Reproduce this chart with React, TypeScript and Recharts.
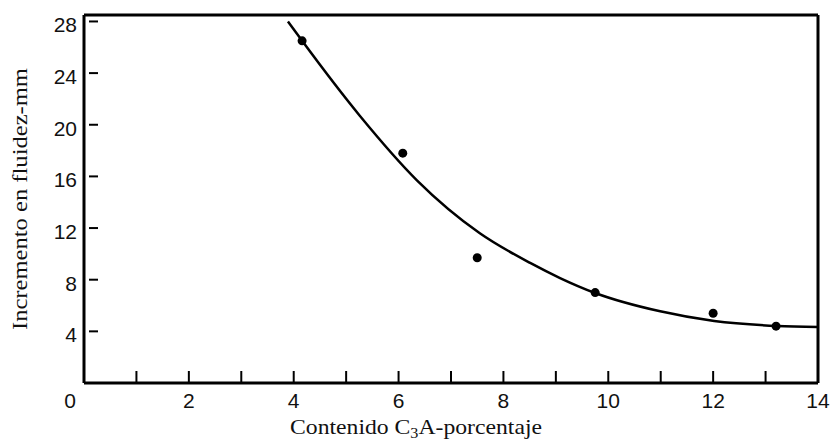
import React from 'react';
import { ComposedChart, Line, Scatter, XAxis, YAxis, ReferenceLine } from 'recharts';

// measured points (C3A %, flow increase mm)
const pointX = [4.16, 6.08, 7.5, 9.75, 12.0, 13.2];
const pointY = [26.5, 17.8, 9.7, 7.0, 5.4, 4.4];

// fitted curve
const curveX = [3.89, 4.16, 5.26, 6.35, 7.55, 8.51, 9.08, 9.75, 10.99, 12.02, 13.22, 14.0];
const curveY = [28.0, 26.5, 20.7, 15.7, 11.6, 9.3, 8.13, 6.97, 5.55, 4.8, 4.42, 4.34];

const xTicks = [0, 1, 2, 3, 4, 5, 6, 7, 8, 9, 10, 11, 12, 13, 14];
const yTicks = [4, 8, 12, 16, 20, 24, 28];

const points = pointX.map((x, i) => ({ x, y: pointY[i] }));
const curve = curveX.map((x, i) => ({ x, y: curveY[i] }));

const SANS = '"Liberation Sans", Arial, Helvetica, sans-serif';
const SERIF = '"Liberation Serif", "Times New Roman", serif';

const XTick = ({ x, y, payload }: any) => {
  const v = payload.value;
  return (
    <g>
      {v > 0 && v < 14 && (
        <line x1={x} x2={x} y1={y} y2={y - 12} stroke="#000" strokeWidth={2} />
      )}
      {v % 2 === 0 && (
        <text x={v === 0 ? x - 14 : x} y={y + 25} textAnchor="middle" fontFamily={SANS} fontSize={21} fill="#111">
          {v}
        </text>
      )}
    </g>
  );
};

const YTick = ({ x, y, payload }: any) => (
  <g>
    <line x1={x + 5} x2={x + 14} y1={y} y2={y} stroke="#000" strokeWidth={2} />
    <text x={x - 7} y={y + 11} textAnchor="end" fontFamily={SANS} fontSize={21} fill="#111">
      {payload.value}
    </text>
  </g>
);

const XTitle = ({ viewBox }: any) => (
  <text
    x={viewBox.x + 332}
    y={viewBox.y + 51}
    textAnchor="middle"
    fontFamily={SERIF}
    fontSize={22}
    fill="#111"
    textLength={252}
    lengthAdjust="spacingAndGlyphs"
  >
    Contenido C<tspan fontSize={15} dy={4}>3</tspan>
    <tspan dy={-4}>A-porcentaje</tspan>
  </text>
);

const YTitle = () => (
  <text
    x={27}
    y={199}
    transform="rotate(-90, 27, 199)"
    textAnchor="middle"
    fontFamily={SERIF}
    fontSize={22}
    fill="#111"
    textLength={262}
    lengthAdjust="spacingAndGlyphs"
  >
    Incremento en fluidez-mm
  </text>
);

const Dot = ({ cx, cy }: any) => <circle cx={cx} cy={cy} r={4.5} fill="#000" />;

export default function App() {
  return (
    <div style={{ position: 'absolute', left: 0, top: 0, width: 835, height: 444, background: '#fff' }}>
      <ComposedChart width={835} height={444} margin={{ top: 15, right: 17, bottom: 31, left: 44 }}>
        <XAxis
          type="number"
          dataKey="x"
          domain={[0, 14]}
          ticks={xTicks}
          interval={0}
          height={30}
          tickSize={0}
          tickMargin={0}
          tickLine={false}
          axisLine={{ stroke: '#000', strokeWidth: 3 }}
          tick={<XTick />}
          label={XTitle}
        />
        <YAxis
          type="number"
          dataKey="y"
          domain={[0, 28.5]}
          ticks={yTicks}
          interval={0}
          width={40}
          tickSize={0}
          tickMargin={0}
          tickLine={false}
          axisLine={{ stroke: '#000', strokeWidth: 3 }}
          tick={<YTick />}
          label={YTitle}
        />
        <ReferenceLine y={28.5} stroke="#000" strokeWidth={3} />
        <ReferenceLine x={14} stroke="#000" strokeWidth={3} />
        <Line
          data={curve}
          dataKey="y"
          type="monotone"
          stroke="#000"
          strokeWidth={2.5}
          dot={false}
          activeDot={false}
          isAnimationActive={false}
        />
        <Scatter data={points} dataKey="y" shape={<Dot />} isAnimationActive={false} />
      </ComposedChart>
    </div>
  );
}
